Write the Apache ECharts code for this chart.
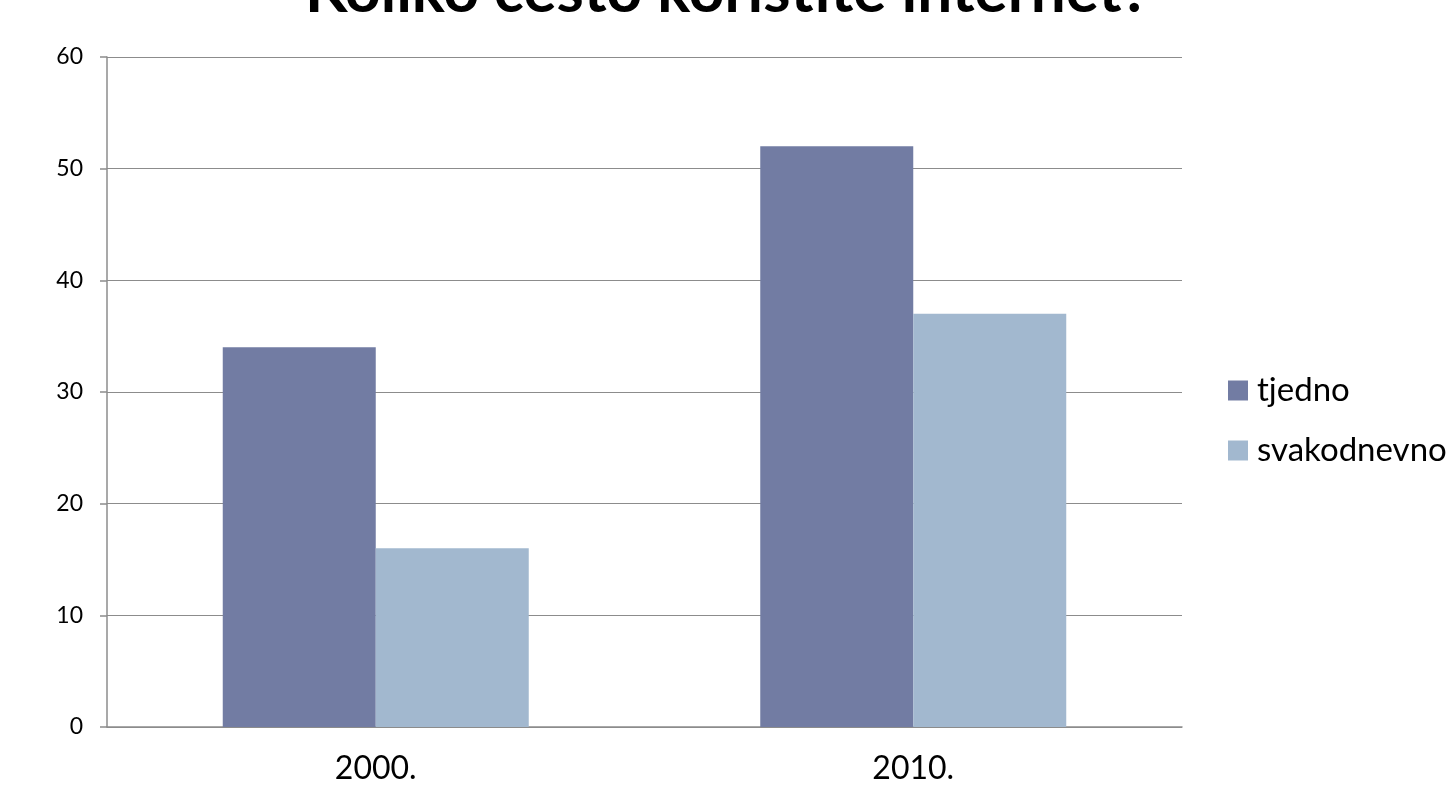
<!DOCTYPE html>
<html>
<head>
<meta charset="utf-8">
<script src="https://cdn.jsdelivr.net/npm/echarts@6/dist/echarts.min.js"></script>
<style>
  html, body { margin: 0; padding: 0; background: #fff; }
  #chart { width: 1455px; height: 788px; }
</style>
</head>
<body>
<div id="chart"></div>
<script>
const years = ['2000.', '2010.'];
const tjedno = [34, 52];
const svakodnevno = [16, 37];

const chart = echarts.init(document.getElementById('chart'));

chart.setOption({
    animation: false,
    title: {
        text: 'Koliko često koristite internet?',
        left: 'center',
        top: -44,
        textStyle: { fontFamily: 'Lato', fontWeight: 'bold', fontSize: 62, color: '#000' }
    },
    grid: { left: 107, right: 273, top: 57, bottom: 61 },
    legend: {
        orient: 'vertical',
        left: 1223,
        top: 369,
        itemWidth: 20,
        itemHeight: 20,
        itemGap: 27,
        icon: 'rect',
        textStyle: { fontFamily: 'Lato', fontSize: 33, color: '#000', padding: [0, 0, 0, 4] },
        data: ['tjedno', 'svakodnevno']
    },
    xAxis: {
        type: 'category',
        data: years,
        axisLine: { lineStyle: { color: '#8c8c8c', width: 1.5 } },
        axisTick: { length: 8, lineStyle: { color: '#8c8c8c', width: 1.5 } },
        axisLabel: { fontFamily: 'Lato', fontSize: 32, color: '#000', margin: 26 }
    },
    yAxis: {
        type: 'value',
        min: 0,
        max: 60,
        interval: 10,
        axisLine: { show: true, lineStyle: { color: '#8c8c8c', width: 1.5 } },
        axisTick: { show: true, length: 7, lineStyle: { color: '#8c8c8c', width: 1.5 } },
        splitLine: { lineStyle: { color: '#8c8c8c', width: 1.2 } },
        axisLabel: { fontFamily: 'Lato', fontSize: 23, color: '#000', margin: 24 }
    },
    series: [
        {
            name: 'tjedno',
            type: 'bar',
            data: tjedno,
            barWidth: 153,
            barGap: '0%',
            itemStyle: { color: '#727ca3' }
        },
        {
            name: 'svakodnevno',
            type: 'bar',
            data: svakodnevno,
            barWidth: 153,
            itemStyle: { color: '#a2b8cf' }
        }
    ]
});

window.addEventListener('resize', () => {
    chart.resize();
});
</script>
</body>
</html>
